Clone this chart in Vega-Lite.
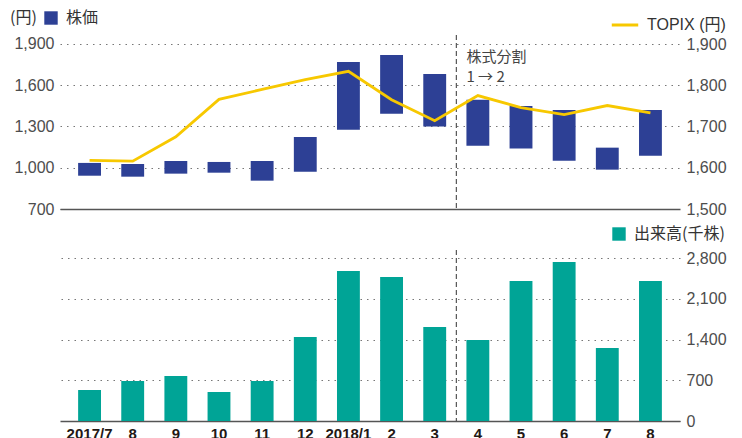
{
  "$schema": "https://vega.github.io/schema/vega-lite/v6.json",
  "padding": {"left": 10, "top": 10, "right": 5, "bottom": 0},
  "bounds": "flush",
  "spacing": 41,
  "background": "white",
  "config": {
    "view": {"stroke": null},
    "font": "Liberation Sans, Noto Sans CJK JP",
    "axis": {
      "labelFont": "Liberation Sans, Noto Sans CJK JP",
      "labelFontSize": 16,
      "labelColor": "#4d4d4d",
      "gridDash": [1.5, 5],
      "gridColor": "#777777",
      "gridWidth": 1.2,
      "domain": false,
      "ticks": false,
      "labelPadding": 6,
      "title": null
    },
    "legend": {
      "labelFont": "Noto Sans CJK JP",
      "labelFontSize": 16,
      "labelColor": "#333333",
      "titleFont": "Noto Sans CJK JP",
      "titleFontSize": 16,
      "titleFontWeight": "normal",
      "titleColor": "#333333"
    }
  },
  "datasets": {
    "d": [
      {"date": "2017/7", "hi": 1035, "lo": 942, "topix": 1618, "vol": 533},
      {"date": "2017/8", "hi": 1027, "lo": 935, "topix": 1616, "vol": 688},
      {"date": "2017/9", "hi": 1049, "lo": 957, "topix": 1675, "vol": 774},
      {"date": "2017/10", "hi": 1042, "lo": 964, "topix": 1766, "vol": 499},
      {"date": "2017/11", "hi": 1049, "lo": 906, "topix": 1790, "vol": 688},
      {"date": "2017/12", "hi": 1224, "lo": 971, "topix": 1814, "vol": 1445},
      {"date": "2018/1", "hi": 1769, "lo": 1277, "topix": 1834, "vol": 2580},
      {"date": "2018/2", "hi": 1820, "lo": 1393, "topix": 1765, "vol": 2477},
      {"date": "2018/3", "hi": 1682, "lo": 1299, "topix": 1714, "vol": 1617},
      {"date": "2018/4", "hi": 1495, "lo": 1160, "topix": 1775, "vol": 1393},
      {"date": "2018/5", "hi": 1449, "lo": 1140, "topix": 1746, "vol": 2408},
      {"date": "2018/6", "hi": 1420, "lo": 1051, "topix": 1729, "vol": 2735},
      {"date": "2018/7", "hi": 1146, "lo": 986, "topix": 1751, "vol": 1256},
      {"date": "2018/8", "hi": 1420, "lo": 1088, "topix": 1733, "vol": 2408}
    ],
    "split": [
      {"date": "2018/4", "y": 1858, "label": "株式分割\n1 → 2"}
    ]
  },
  "resolve": {
    "scale": {"fill": "independent", "x": "independent", "y": "independent"},
    "legend": {"fill": "independent"}
  },
  "vconcat": [
    {
      "width": 620,
      "height": 174,
      "layer": [
        {
          "layer": [
            {
              "data": {"name": "d"},
              "mark": {"type": "bar"},
              "encoding": {
                "x": {
                  "field": "date", "type": "ordinal", "sort": null,
                  "scale": {"paddingInner": 0.47, "paddingOuter": 0.42},
                  "axis": {"labels": false, "ticks": false, "domain": true, "domainColor": "#555555", "domainWidth": 1.5, "grid": false, "title": null}
                },
                "y": {
                  "field": "hi", "type": "quantitative",
                  "scale": {"domain": [700, 1965], "nice": false, "zero": false},
                  "axis": {"values": [700, 1000, 1300, 1600, 1900], "format": ",.0f", "grid": true, "title": null}
                },
                "y2": {"field": "lo"},
                "fill": {
                  "datum": "株価", "type": "nominal",
                  "scale": {"range": ["#2d4095"]},
                  "legend": {
                    "orient": "none", "legendX": -50, "legendY": -25,
                    "title": "(円)", "titleOrient": "left", "titlePadding": 6,
                    "symbolType": "square", "symbolSize": 180, "symbolStrokeWidth": 0,
                    "labelOffset": 7
                  }
                }
              }
            },
            {
              "data": {"name": "split"},
              "mark": {"type": "rule", "color": "#333333", "strokeDash": [5, 3], "strokeWidth": 1},
              "encoding": {
                "x": {"field": "date", "type": "ordinal", "sort": null, "bandPosition": -0.443}
              }
            },
            {
              "data": {"name": "split"},
              "mark": {"type": "text", "align": "left", "baseline": "top", "lineBreak": "\n", "lineHeight": 20, "font": "Noto Sans CJK JP", "fontSize": 15, "color": "#444444"},
              "encoding": {
                "x": {"field": "date", "type": "ordinal", "sort": null, "bandPosition": 0},
                "y": {"field": "y", "type": "quantitative", "axis": {"title": null}},
                "text": {"field": "label"}
              }
            }
          ]
        },
        {
          "data": {"name": "d"},
          "mark": {"type": "line", "strokeWidth": 2.8, "color": "#f7c800"},
          "encoding": {
            "x": {"field": "date", "type": "ordinal", "sort": null},
            "y": {
              "field": "topix", "type": "quantitative",
              "scale": {"domain": [1500, 1922], "nice": false, "zero": false},
              "axis": {"orient": "right", "values": [1500, 1600, 1700, 1800, 1900], "format": ",.0f", "grid": false, "title": null}
            },
            "stroke": {
              "datum": "TOPIX (円)", "type": "nominal",
              "scale": {"range": ["#f7c800"]},
              "legend": {
                "orient": "none", "legendX": 550, "legendY": -25, "title": null,
                "symbolType": "stroke", "symbolSize": 700, "symbolStrokeWidth": 3,
                "labelOffset": 7, "labelFont": "Liberation Sans, Noto Sans CJK JP", "labelFontSize": 16
              }
            }
          }
        }
      ],
      "resolve": {"scale": {"y": "independent"}}
    },
    {
      "width": 620,
      "height": 171,
      "layer": [
        {
          "data": {"name": "d"},
          "mark": {"type": "bar"},
          "encoding": {
            "x": {
              "field": "date", "type": "ordinal", "sort": null,
              "scale": {"paddingInner": 0.47, "paddingOuter": 0.42},
              "axis": {
                "labelExpr": "datum.value == '2017/7' || datum.value == '2018/1' ? datum.value : split(datum.value, '/')[1]",
                "labelAngle": 0, "labelFontWeight": "bold", "labelFontSize": 15, "labelColor": "#231815",
                "labelPadding": 5, "domain": true, "domainColor": "#555555", "domainWidth": 1.5, "ticks": false, "grid": false, "title": null
              }
            },
            "y": {
              "field": "vol", "type": "quantitative",
              "scale": {"domain": [0, 2941], "nice": false},
              "axis": {"orient": "right", "values": [0, 700, 1400, 2100, 2800], "format": ",.0f", "grid": true, "title": null}
            },
            "fill": {
              "datum": "出来高(千株)", "type": "nominal",
              "scale": {"range": ["#00a496"]},
              "legend": {
                "orient": "none", "legendX": 551, "legendY": -24, "title": null,
                "symbolType": "square", "symbolSize": 180, "symbolStrokeWidth": 0,
                "labelOffset": 7
              }
            }
          }
        },
        {
          "data": {"name": "split"},
          "mark": {"type": "rule", "color": "#333333", "strokeDash": [5, 3], "strokeWidth": 1},
          "encoding": {
            "x": {"field": "date", "type": "ordinal", "sort": null, "bandPosition": -0.443}
          }
        }
      ]
    }
  ]
}
